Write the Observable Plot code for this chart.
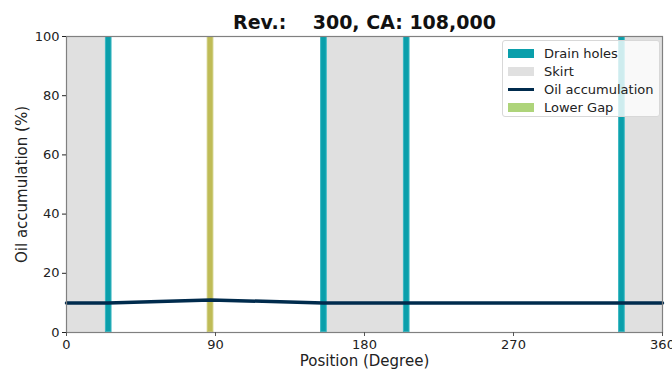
<!DOCTYPE html>
<html>
<head>
<meta charset="utf-8">
<script src="https://cdn.jsdelivr.net/npm/d3@7"></script>
<script src="https://cdn.jsdelivr.net/npm/@observablehq/plot@0.6"></script>
<style>
  html, body { margin: 0; padding: 0; background: #fff; }
  #wrap { position: relative; width: 672px; height: 370px; font-family: "DejaVu Sans", sans-serif; }
  #wrap svg { overflow: visible; }
  [aria-label="x-axis label"], [aria-label="y-axis label"] { font-size: 15px; }
  #legend { position: absolute; left: 502px; top: 40px; width: 158px; height: 77px;
    background: rgba(255,255,255,0.8); border: 1px solid #d8d8d8; border-radius: 3px; box-sizing: border-box;
    font-size: 13px; color: #222; padding: 3px 0 0 5px; }
  .row { height: 18px; display: flex; align-items: center; }
  .sw { width: 26px; height: 9px; margin-right: 10px; }
  .ln { width: 26px; height: 3px; margin-right: 10px; }
</style>
</head>
<body>
<div id="wrap"></div>
<script>
const title = "Rev.:    300, CA: 108,000";
const xTicks = [0, 90, 180, 270, 360];
const yTicks = [0, 20, 40, 60, 80, 100];

// Skirt regions (degrees)
const skirtStart = [0, 157.5, 337.5];
const skirtEnd = [23.5, 203.5, 360];

// Drain holes (center degrees)
const drainHoles = [25.5, 155.5, 205.5, 335.5];
const holeWidth = 4;

// Lower gap
const lowerGap = [87];

// Oil accumulation
const oilPos = [0, 25, 87, 155, 205, 335, 360];
const oilVal = [10, 10, 11, 10, 10, 10, 10];

const legendLabels = ["Drain holes", "Skirt", "Oil accumulation", "Lower Gap"];
const colors = { drain: "#0a9fab", skirt: "#e0e0e0", oil: "#002b4d", gap: "#bfbc57", gapLegend: "#aed47a" };

const skirts = skirtStart.map((s, i) => ({x1: s, x2: skirtEnd[i]}));
const holes = drainHoles.map(c => ({x1: c - holeWidth / 2, x2: c + holeWidth / 2}));
const gaps = lowerGap.map(c => ({x1: c - holeWidth / 2, x2: c + holeWidth / 2}));
const oil = oilPos.map((p, i) => ({x: p, y: oilVal[i]}));

const chart = Plot.plot({
  width: 672,
  height: 370,
  marginTop: 36,
  marginBottom: 38,
  marginLeft: 66,
  marginRight: 10,
  style: { fontFamily: "DejaVu Sans, sans-serif", fontSize: "13px", color: "#222", overflow: "visible" },
  x: { domain: [0, 360] },
  y: { domain: [0, 100] },
  marks: [
    Plot.rect(skirts, { x1: "x1", x2: "x2", y1: 0, y2: 100, fill: colors.skirt }),
    Plot.rect(holes, { x1: "x1", x2: "x2", y1: 0, y2: 100, fill: colors.drain, stroke: "#35b4bf", strokeWidth: 1, inset: 0.5 }),
    Plot.rect(gaps, { x1: "x1", x2: "x2", y1: 0, y2: 100, fill: colors.gap, stroke: "#cccb78", strokeWidth: 1, inset: 0.5 }),
    Plot.line(oil, { x: "x", y: "y", stroke: colors.oil, strokeWidth: 3.5 }),
    Plot.frame({ stroke: "#808080", strokeWidth: 1.2 }),
    Plot.axisX({ ticks: xTicks, tickSize: 4, tickPadding: 3, label: "Position (Degree)", labelAnchor: "center", labelArrow: "none", labelOffset: 33, fontSize: 13, stroke: "#555" }),
    Plot.axisY({ ticks: yTicks, tickSize: 4, tickPadding: 3, label: "Oil accumulation (%)", labelAnchor: "center", labelArrow: "none", labelOffset: 50, fontSize: 13 }),
    Plot.text([title], { frameAnchor: "top", dy: -21, text: d => d, fontSize: 19, fontWeight: "bold", fill: "#111" })
  ]
});
const wrap = document.getElementById("wrap");
wrap.appendChild(chart);

const legend = document.createElement("div");
legend.id = "legend";
const swatches = [
  `<div class="sw" style="background:${colors.drain}"></div>`,
  `<div class="sw" style="background:${colors.skirt}"></div>`,
  `<div class="ln" style="background:${colors.oil}"></div>`,
  `<div class="sw" style="background:${colors.gapLegend}"></div>`
];
legend.innerHTML = legendLabels.map((l, i) => `<div class="row">${swatches[i]}<span>${l}</span></div>`).join("");
wrap.appendChild(legend);
</script>
</body>
</html>
